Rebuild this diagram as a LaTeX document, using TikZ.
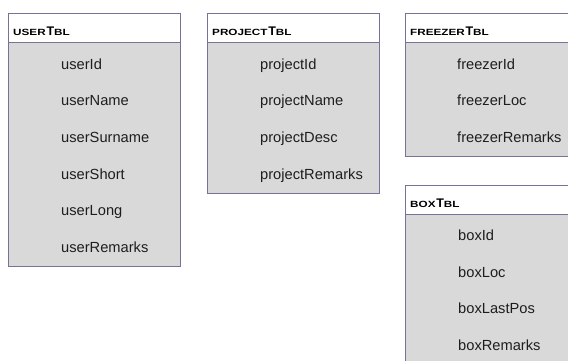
\documentclass[tikz,border=0pt]{standalone}
\usepackage{graphicx}
\usepackage{fontspec}
\setmainfont{Liberation Sans}
\definecolor{bordercol}{RGB}{123,112,153}
\definecolor{bodycol}{RGB}{217,217,217}
\definecolor{txtcol}{RGB}{30,30,30}
\newcommand{\tblhead}[1]{\scalebox{1.3}[1]{\fontsize{9}{10}\selectfont\bfseries #1}\kern0.8pt{\fontsize{12.5}{13}\selectfont\bfseries T}\scalebox{1.3}[1]{\fontsize{9}{10}\selectfont\bfseries BL}}
\tikzset{
  hdrbox/.style={draw=bordercol, fill=white, line width=1pt, anchor=north west, inner sep=0pt, outer sep=0pt},
  bodybox/.style={draw=bordercol, fill=bodycol, line width=1pt, anchor=north west, inner sep=0pt, outer sep=0pt},
  field/.style={anchor=base west, inner sep=0pt, font=\fontsize{14.67}{16}\selectfont, text=txtcol},
  tbltitle/.style={anchor=base west, inner sep=0pt, text=black},
}
\begin{document}
\begin{tikzpicture}[x=1pt,y=-1pt]
\clip (0,0) rectangle (568,361);
\fill[white] (0,0) rectangle (568,361);
% userTbl
\node[bodybox, minimum width=172.5pt, minimum height=224pt] (userB) at (8,42.7) {};
\node[hdrbox, minimum width=172.5pt, minimum height=29.4pt] (userH) at (8,13.3) {};
\node[tbltitle] (userT) at (13,35.3) {\tblhead{USER}};
\node[field] (u1) at (61,69.5) {userId};
\node[field] (u2) at (61,106) {userName};
\node[field] (u3) at (61,142.5) {userSurname};
\node[field] (u4) at (61,179) {userShort};
\node[field] (u5) at (61,215.5) {userLong};
\node[field] (u6) at (61,252) {userRemarks};
% projectTbl
\node[bodybox, minimum width=172pt, minimum height=150.6pt] (projB) at (207,42.7) {};
\node[hdrbox, minimum width=172pt, minimum height=29.4pt] (projH) at (207,13.3) {};
\node[tbltitle] (projT) at (212,35.3) {\tblhead{PROJECT}};
\node[field] (p1) at (260,69.5) {projectId};
\node[field] (p2) at (260,106) {projectName};
\node[field] (p3) at (260,142.5) {projectDesc};
\node[field] (p4) at (260,179) {projectRemarks};
% freezerTbl
\node[bodybox, minimum width=215pt, minimum height=114pt] (frzB) at (405,42.7) {};
\node[hdrbox, minimum width=215pt, minimum height=29.4pt] (frzH) at (405,13.3) {};
\node[tbltitle] (frzT) at (410,35.3) {\tblhead{FREEZER}};
\node[field] (f1) at (457,69.5) {freezerId};
\node[field] (f2) at (457,106) {freezerLoc};
\node[field] (f3) at (457,142.5) {freezerRemarks};
% boxTbl
\node[bodybox, minimum width=215pt, minimum height=190pt] (boxB) at (405,214) {};
\node[hdrbox, minimum width=215pt, minimum height=28.3pt] (boxH) at (405,185.7) {};
\node[tbltitle] (boxT) at (410,207) {\tblhead{BOX}};
\node[field] (b1) at (458,240.5) {boxId};
\node[field] (b2) at (458,277) {boxLoc};
\node[field] (b3) at (458,313.5) {boxLastPos};
\node[field] (b4) at (458,350) {boxRemarks};
\end{tikzpicture}
\end{document}
